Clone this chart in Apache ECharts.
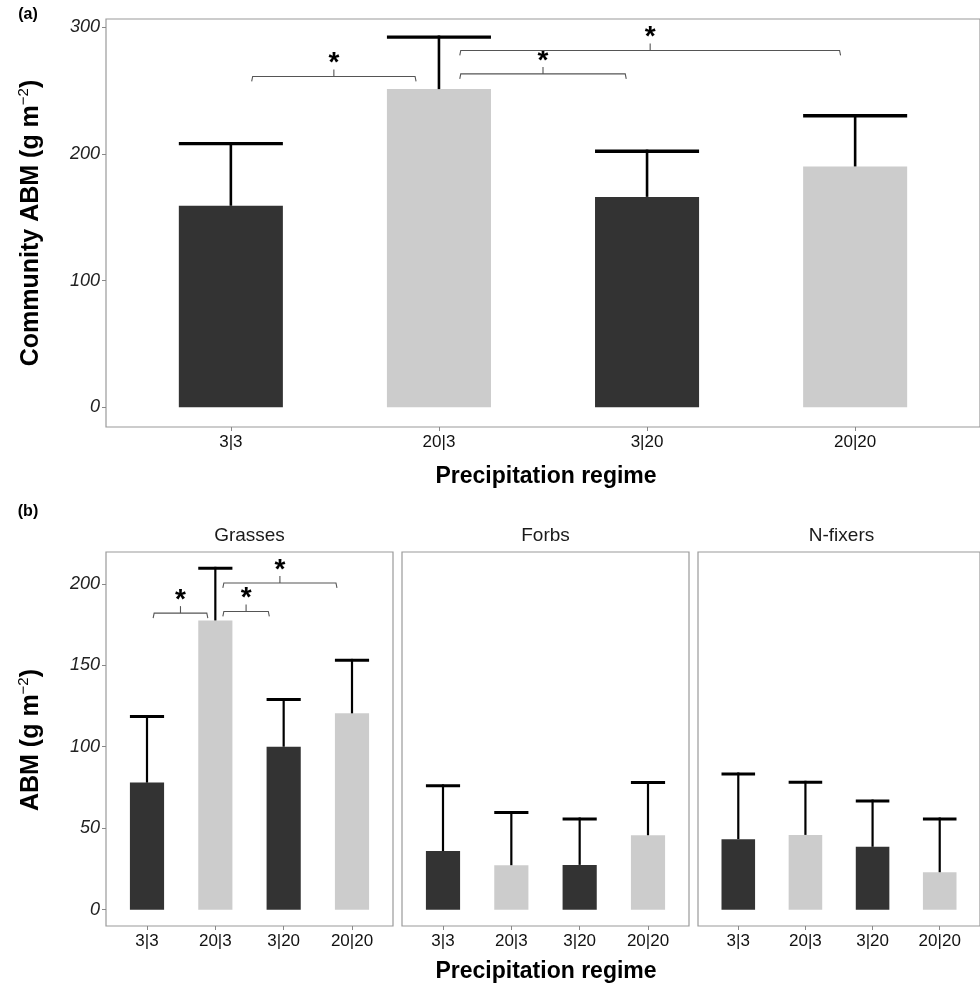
<!DOCTYPE html>
<html>
<head>
<meta charset="utf-8">
<title>Aboveground biomass by precipitation regime</title>
<script src="https://cdn.jsdelivr.net/npm/echarts/dist/echarts.min.js"></script>
<style>
  html, body { margin: 0; padding: 0; background: #ffffff; }
  #chart { width: 980px; height: 992px; }
</style>
</head>
<body>
<div id="chart"></div>
<script>
// Precipitation regimes (first|second period, mm)
const regimes = ['3|3', '20|3', '3|20', '20|20'];

// (a) community aboveground biomass: mean and standard error
const communityMean = [159, 251, 166, 190];
const communitySE = [49, 41, 36, 40];

// (b) functional groups: mean and standard error
const grassMean = [78, 177.5, 100, 120.5];
const grassSE = [40.5, 32, 29, 32.5];
const forbMean = [36, 27.3, 27.5, 45.7];
const forbSE = [40, 32.3, 28.2, 32.3];
const nfixMean = [43.3, 45.9, 38.6, 23];
const nfixSE = [40, 32.3, 28.1, 32.7];

// Significant pairwise contrasts: [from, to, height]
const communityPairs = [[1.1, 1.89, 261], [2.1, 2.9, 263], [2.1, 3.93, 281.5]];
const grassPairs = [[1.09, 1.89, 182], [2.11, 2.79, 183], [2.11, 3.78, 200.5]];

const yTicksA = [0, 100, 200, 300];
const yTicksB = [0, 50, 100, 150, 200];
const panelNames = ['Grasses', 'Forbs', 'N-fixers'];

const FONT = '"Liberation Sans", Arial, sans-serif';
const DARK = '#333333';
const LIGHT = '#cccccc';
const BAR_HALF = 0.25;

function fillFor(regime) {
  return regime.split('|')[0] === '3' ? DARK : LIGHT;
}

function barRender(params, api) {
  const x = api.value(0), v = api.value(1);
  const a = api.coord([x - BAR_HALF, v]);
  const b = api.coord([x + BAR_HALF, 0]);
  return {
    type: 'rect',
    shape: { x: a[0], y: a[1], width: b[0] - a[0], height: b[1] - a[1] },
    style: { fill: fillFor(regimes[Math.round(x) - 1]) }
  };
}

function errRender(vw, cw) {
  return function (params, api) {
    const x = api.value(0), m = api.value(1), se = api.value(2);
    const base = api.coord([x, m]);
    const top = api.coord([x, m + se]);
    const l = api.coord([x - BAR_HALF, m + se]);
    const r = api.coord([x + BAR_HALF, m + se]);
    return {
      type: 'group',
      children: [
        { type: 'line', shape: { x1: base[0], y1: base[1], x2: top[0], y2: top[1] - cw / 2 },
          style: { stroke: '#000', lineWidth: vw } },
        { type: 'line', shape: { x1: l[0], y1: l[1], x2: r[0], y2: r[1] },
          style: { stroke: '#000', lineWidth: cw } }
      ]
    };
  };
}

function pairRender(params, api) {
  const x1 = api.value(0), x2 = api.value(1), y = api.value(2);
  const p1 = api.coord([x1, y]);
  const p2 = api.coord([x2, y]);
  const mx = (p1[0] + p2[0]) / 2;
  const yy = p1[1];
  return {
    type: 'group',
    children: [
      { type: 'polyline',
        shape: { points: [[p1[0], yy + 5], [p1[0] + 1, yy], [p2[0] - 1, yy], [p2[0], yy + 5]] },
        style: { stroke: '#555', lineWidth: 1.1, fill: null } },
      { type: 'line', shape: { x1: mx, y1: yy, x2: mx, y2: yy - 7 },
        style: { stroke: '#555', lineWidth: 1.1 } },
      { type: 'text', x: mx, y: yy - 13,
        style: { text: '*', font: 'bold 28px ' + FONT, fill: '#000',
                 align: 'center', verticalAlign: 'middle',
                 textAlign: 'center', textVerticalAlign: 'middle' } }
    ]
  };
}

const grids = [
  { left: 106, top: 19, width: 880, height: 408 },
  { left: 106, top: 552, width: 287, height: 374 },
  { left: 402, top: 552, width: 287, height: 374 },
  { left: 698, top: 552, width: 287, height: 374 }
].map(g => Object.assign(g, { show: true, borderColor: '#9a9a9a', borderWidth: 1.2, backgroundColor: 'transparent' }));

function xAxisFor(i) {
  return {
    type: 'value', gridIndex: i, min: 0.4, max: 4.6,
    axisLine: { show: false, onZero: false },
    splitLine: { show: false },
    axisTick: { show: true, customValues: [1, 2, 3, 4], length: 4, lineStyle: { color: '#888', width: 1 } },
    axisLabel: { customValues: [1, 2, 3, 4], formatter: v => regimes[Math.round(v) - 1],
                 margin: 7, fontSize: 17, color: '#111', fontFamily: FONT }
  };
}

function yAxisFor(i, min, max, ticks, labelled) {
  return {
    type: 'value', gridIndex: i, min: min, max: max,
    axisLine: { show: false, onZero: false },
    splitLine: { show: false },
    axisTick: { show: labelled, customValues: ticks, length: 4, lineStyle: { color: '#888', width: 1 } },
    axisLabel: { show: labelled, customValues: ticks, margin: 6, fontSize: 18, fontStyle: 'italic',
                 color: '#222', fontFamily: FONT }
  };
}

function rows(mean, se) {
  return regimes.map((r, i) => [i + 1, mean[i], se[i]]);
}

const groups = [
  { mean: communityMean, se: communitySE, pairs: communityPairs, vw: 2.6, cw: 3.3 },
  { mean: grassMean, se: grassSE, pairs: grassPairs, vw: 2.2, cw: 3 },
  { mean: forbMean, se: forbSE, pairs: [], vw: 2.2, cw: 3 },
  { mean: nfixMean, se: nfixSE, pairs: [], vw: 2.2, cw: 3 }
];

const series = [];
groups.forEach((g, i) => {
  series.push({ type: 'custom', name: 'mean', xAxisIndex: i, yAxisIndex: i,
                renderItem: barRender, data: rows(g.mean, g.se), silent: true });
  series.push({ type: 'custom', name: 'se', xAxisIndex: i, yAxisIndex: i,
                renderItem: errRender(g.vw, g.cw), data: rows(g.mean, g.se), silent: true, z: 3 });
  if (g.pairs.length) {
    series.push({ type: 'custom', name: 'contrast', xAxisIndex: i, yAxisIndex: i,
                  renderItem: pairRender, data: g.pairs, silent: true, z: 4 });
  }
});

function label(x, y, text, font, fill) {
  return {
    type: 'text', x: x, y: y,
    style: { text: text, font: font, fill: fill || '#000',
             align: 'center', verticalAlign: 'middle',
             textAlign: 'center', textVerticalAlign: 'middle' }
  };
}

function yTitle(x, y, lead) {
  return {
    type: 'text', x: x, y: y, rotation: Math.PI / 2,
    style: {
      text: '{b|' + lead + '(g m}{s|−2}{b|)}',
      align: 'center', verticalAlign: 'middle',
      textAlign: 'center', textVerticalAlign: 'middle',
      rich: {
        b: { fontFamily: FONT, fontWeight: 'bold', fontSize: 25, fill: '#000', color: '#000', lineHeight: 30 },
        s: { fontFamily: FONT, fontSize: 15, fill: '#000', color: '#000', verticalAlign: 'top', lineHeight: 30 }
      }
    }
  };
}

const graphics = [
  label(28, 15, '(a)', 'bold 16px ' + FONT),
  label(28, 512, '(b)', 'bold 16px ' + FONT),
  yTitle(31, 223, 'Community ABM '),
  yTitle(31, 740, 'ABM '),
  label(546, 477, 'Precipitation regime', 'bold 23px ' + FONT),
  label(546, 972, 'Precipitation regime', 'bold 23px ' + FONT)
];
[249.5, 545.5, 841.5].forEach((cx, i) => {
  graphics.push(label(cx, 536, panelNames[i], '19px ' + FONT, '#1a1a1a'));
});

const chart = echarts.init(document.getElementById('chart'), null, { renderer: 'canvas' });
chart.setOption({
  animation: false,
  backgroundColor: '#ffffff',
  grid: grids,
  xAxis: [0, 1, 2, 3].map(xAxisFor),
  yAxis: [
    yAxisFor(0, -15.5, 306.3, yTicksA, true),
    yAxisFor(1, -10, 219.5, yTicksB, true),
    yAxisFor(2, -10, 219.5, yTicksB, false),
    yAxisFor(3, -10, 219.5, yTicksB, false)
  ],
  series: series,
  graphic: graphics
});
</script>
</body>
</html>
